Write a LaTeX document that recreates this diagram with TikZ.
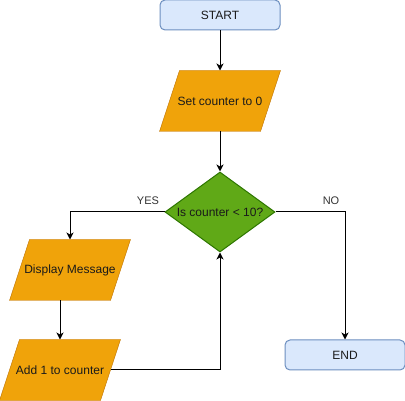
\documentclass[tikz,border=0pt]{standalone}
\usepackage{fontspec}
\setmainfont{Liberation Sans}
\usetikzlibrary{shapes.geometric,positioning,arrows.meta,backgrounds}
\definecolor{termfill}{HTML}{DAE8FC}
\definecolor{termline}{HTML}{6C8EBF}
\definecolor{iofill}{HTML}{F0A30A}
\definecolor{ioline}{HTML}{BD7000}
\definecolor{decfill}{HTML}{60A917}
\definecolor{decline}{HTML}{2D7600}
\definecolor{txt}{HTML}{1A1A1A}
\definecolor{lbl}{HTML}{333333}
\tikzset{
  term/.style={draw=termline,fill=termfill,rounded corners=5pt,
    minimum width=120pt,minimum height=30pt,text=txt},
  io/.style={inner xsep=0pt,minimum width=100pt,minimum height=60pt,text=txt},
  iobox/.style={draw=ioline,fill=iofill},
  decision/.style={diamond,aspect=1.375,draw=decline,fill=decfill,inner sep=0pt,
    minimum width=110pt,minimum height=80pt,text=txt},
  flow/.style={-{Stealth[length=7pt,width=7pt,inset=2pt]}},
  answer/.style={text=lbl,font=\fontsize{11}{13}\selectfont}
}

\begin{document}
\begin{tikzpicture}[x=1pt,y=-1pt,line width=1pt,font=\fontsize{12}{14}\selectfont]
        \useasboundingbox (0,0) rectangle (405,401);
        \node[term] (start) at (220,15) {START};
        \node[io,below=40pt of start] (setc) {Set counter to 0};
        \node[decision,below=40pt of setc] (check) {Is counter < 10?};
        \node[io] (disp) at (70,270) {Display Message};
        \node[io] (addone) at (60,370) {Add 1 to counter};
        \node[term] (stop) at (345,355) {END};
        \node[answer] (yes) at (148,201) {YES};
        \node[answer] (no) at (331,201) {NO};
        \begin{scope}[on background layer]
            \foreach \n in {setc,disp,addone}
                \draw[iobox] ([xshift=10pt]\n.north west) -- ([xshift=10pt]\n.north east)
                    -- ([xshift=-10pt]\n.south east) -- ([xshift=-10pt]\n.south west) -- cycle;
        \end{scope}
        \draw[flow] (start) -- (setc);
        \draw[flow] (setc) -- (check);
        \draw[flow] (check.west) -| (disp.north);
        \draw[flow] ([xshift=-10pt]disp.south) -- (addone);
        \draw[flow] (addone.east) -| (check.south);
        \draw[flow] (check.east) -| (stop.north);
    \end{tikzpicture}
\end{document}
